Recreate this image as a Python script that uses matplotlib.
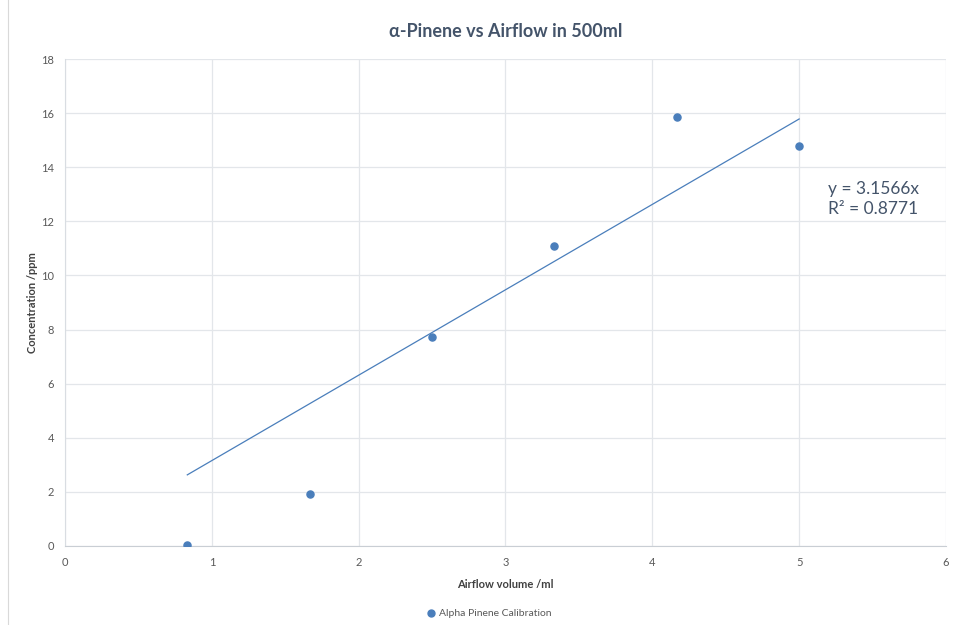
import matplotlib.pyplot as plt
import numpy as np
from matplotlib.lines import Line2D

plt.rcParams['font.family'] = ['Lato', 'DejaVu Sans']

# data
airflow = [0.833, 1.667, 2.5, 3.333, 4.167, 5.0]
conc = [0.05, 1.92, 7.72, 11.07, 15.87, 14.8]
slope = 3.1566
r2 = 0.8771
series_name = 'Alpha Pinene Calibration'

fig = plt.figure(figsize=(9.57, 6.25), dpi=100)
ax = fig.add_axes([0.0679, 0.1264, 0.9206, 0.7792])

# trendline through origin
xt = np.array([min(airflow), max(airflow)])
ax.plot(xt, slope * xt, color='#4A7EBB', lw=0.9, zorder=2)
ax.scatter(airflow, conc, s=26, color='#4A7EBB', zorder=3)

ax.set_xlim(0, 6)
ax.set_ylim(0, 18)
ax.set_xticks(np.arange(0, 7, 1))
ax.set_yticks(np.arange(0, 19, 2))
ax.grid(True, color='#E3E6EA', lw=0.9)
ax.set_axisbelow(True)
for s in ['top', 'right']:
    ax.spines[s].set_visible(False)
ax.spines['left'].set_color('#D9DDE2')
ax.spines['bottom'].set_color('#C9CED4')
ax.tick_params(length=0, labelsize=8, colors='#595959', pad=8)

ax.set_xlabel('Airflow volume /ml', fontsize=8, fontweight='bold', color='#404040', labelpad=8)
ax.set_ylabel('Concentration /ppm', fontsize=8, fontweight='bold', color='#404040', labelpad=2)
ax.set_title('\u03b1-Pinene vs Airflow in 500ml', fontsize=13, fontweight='bold',
             color='#44546A', pad=16)

ax.text(0.866, 0.713, 'y = %.4fx\nR\u00b2 = %.4f' % (slope, r2), transform=ax.transAxes,
        fontsize=12.5, color='#44546A', ha='left', va='center', linespacing=1.3)

handle = Line2D([], [], marker='o', ls='none', color='#4A7EBB', markersize=5)
fig.legend([handle], [series_name], loc='center', bbox_to_anchor=(0.508, 0.018),
           frameon=False, fontsize=7.5, handletextpad=-0.2, labelcolor='#595959')

# chart area border on the left
fig.add_artist(Line2D([0.008, 0.008], [0, 1], transform=fig.transFigure, color='#D9D9D9', lw=0.8))

fig.savefig('out.png', dpi=100)
